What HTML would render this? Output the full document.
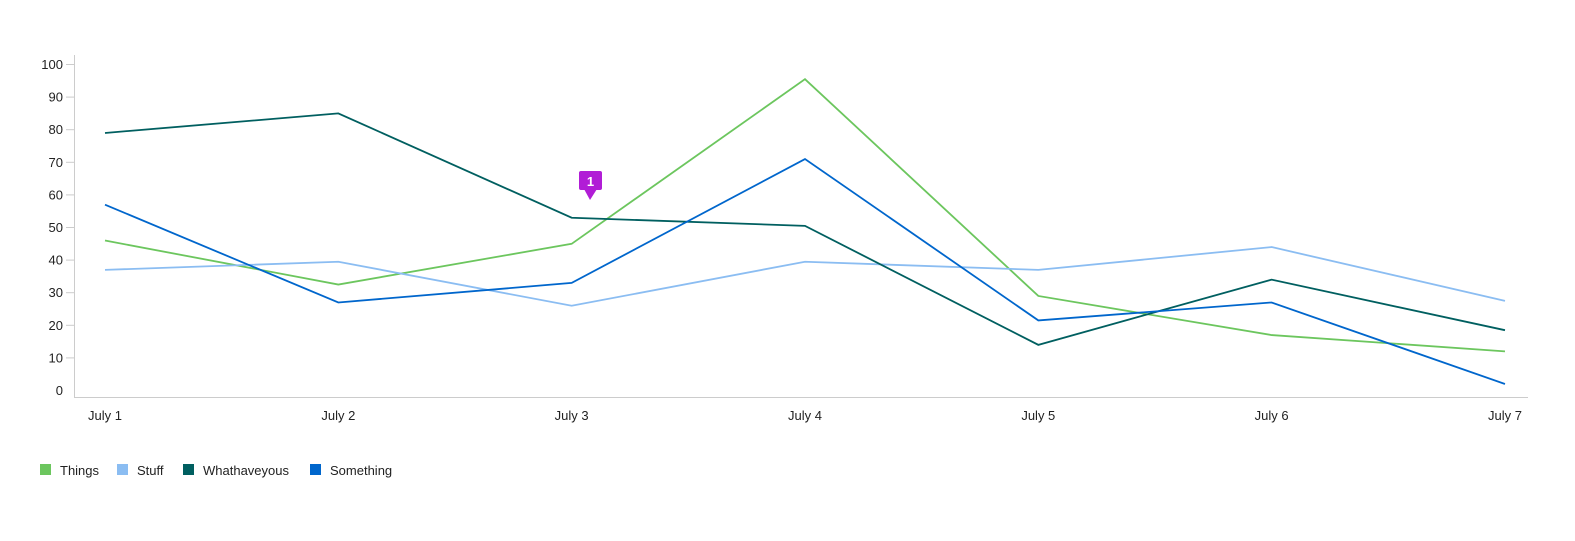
<!DOCTYPE html>
<html><head><meta charset="utf-8"><style>
body{margin:0;background:#fff;font-family:"Liberation Sans",sans-serif;}
svg text{font-family:"Liberation Sans",sans-serif;font-size:13px;fill:#222;}
</style></head><body>
<svg width="1575" height="536">
<g id="axes"></g><g id="lines"></g><g id="legend"></g>
<g>
<rect x="579" y="171" width="23" height="19" rx="2" fill="#b11dd6"/>
<polygon points="584,189 597,189 590,200" fill="#b11dd6"/>
<text x="590.5" y="186" text-anchor="middle" style="fill:#fff;font-weight:bold;font-size:13px">1</text>
</g>
</svg>
<script>
const categories=["July 1","July 2","July 3","July 4","July 5","July 6","July 7"];
const yTicks=[0,10,20,30,40,50,60,70,80,90,100];
const seriesNames=["Things","Stuff","Whathaveyous","Something"];
const seriesColors=["#6cc65e","#8bbdf2","#005f60","#0066cc"];
const things=[46,32.5,45,95.5,29,17,12];
const stuff=[37,39.5,26,39.5,37,44,27.5];
const whathaveyous=[79,85,53,50.5,14,34,18.5];
const something=[57,27,33,71,21.5,27,2];
const allSeries=[things,stuff,whathaveyous,something];
const NS="http://www.w3.org/2000/svg";
const x=i=>105+i*233.33;
const y=v=>390.5-v*3.26;
const axes=document.getElementById('axes');
function mk(tag,attrs,parent){const e=document.createElementNS(NS,tag);for(const k in attrs)e.setAttribute(k,attrs[k]);parent.appendChild(e);return e;}
const yl=mk('line',{x1:74.5,y1:55,x2:74.5,y2:397.5,stroke:'#ccc'},axes);


const xl=mk('line',{x1:74,y1:397.5,x2:1528,y2:397.5,stroke:'#ccc'},axes);


yTicks.forEach(t=>{
  if(t>0){const tl=mk('line',{x1:66,x2:74,y1:y(t),y2:y(t),stroke:'#ccc'},axes);
  
  }
  const tx=mk('text',{x:63,y:y(t)+4.5,'text-anchor':'end'},axes);tx.textContent=t;
  
  
});
categories.forEach((c,i)=>{
  const tx=mk('text',{x:x(i),y:420,'text-anchor':'middle'},axes);tx.textContent=c;
  
  
});
const lines=document.getElementById('lines');
allSeries.forEach((s,k)=>{
  const p=mk('polyline',{points:s.map((v,i)=>x(i)+','+y(v)).join(' '),fill:'none',stroke:seriesColors[k],'stroke-width':1.8},lines);
  
  
});
const lg=document.getElementById('legend');
const lx=[40,117,183,310];
seriesNames.forEach((n,k)=>{
  const g=mk('g',{},lg);
  
  
  mk('rect',{x:lx[k],y:464,width:11,height:11,fill:seriesColors[k]},g);
  const t=mk('text',{x:lx[k]+20,y:475},g);t.textContent=n;
});
</script>
</body></html>
